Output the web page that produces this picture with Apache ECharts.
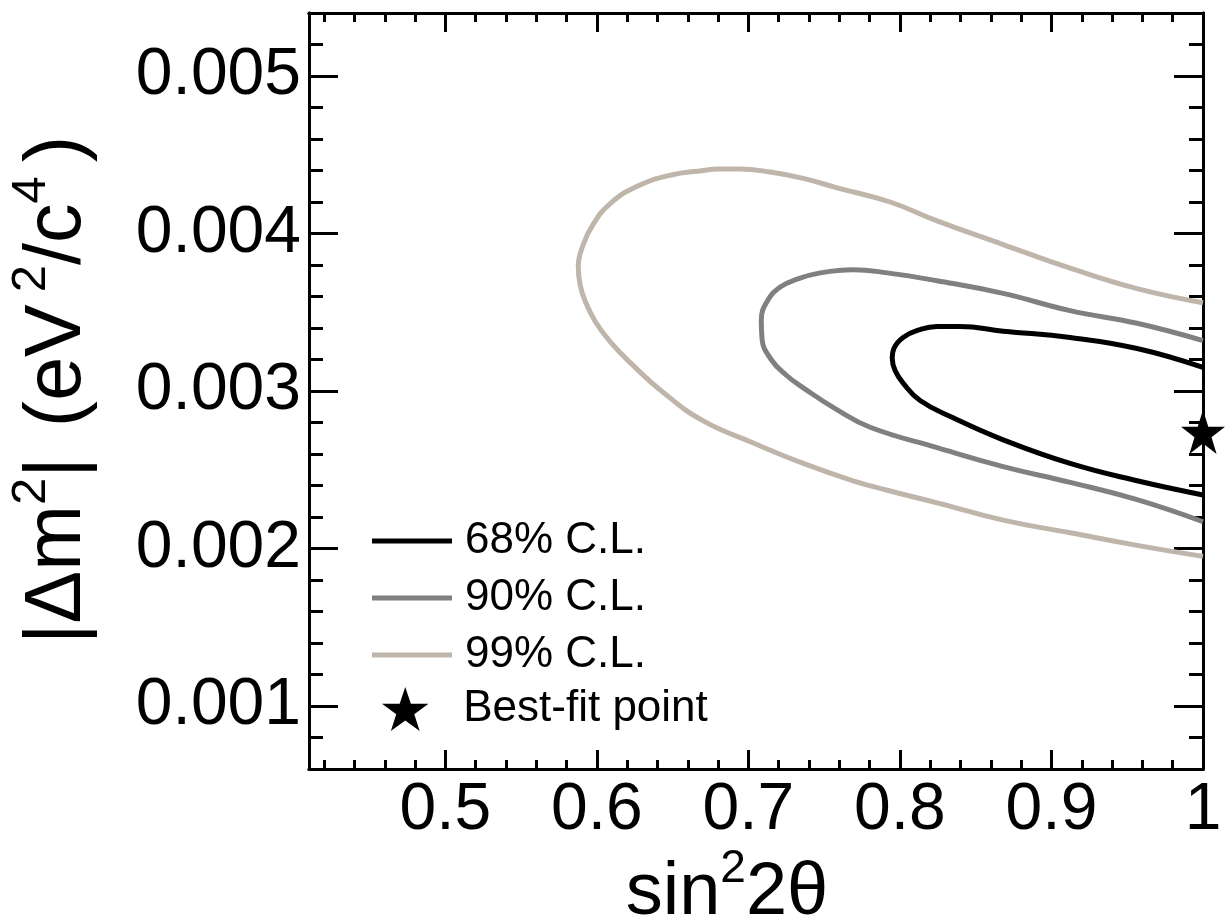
<!DOCTYPE html>
<html>
<head>
<meta charset="utf-8">
<script src="https://cdn.jsdelivr.net/npm/echarts@6/dist/echarts.min.js"></script>
<style>
html,body{margin:0;padding:0;background:#fff;}
#c{width:1227px;height:924px;}
</style>
</head>
<body>
<div id="c"></div>
<script>
// ---- data ----
const xMajorTicks = [0.5, 0.6, 0.7, 0.8, 0.9, 1.0];
const xMinorTicks = [0.42, 0.44, 0.46, 0.48, 0.52, 0.54, 0.56, 0.58, 0.62, 0.64, 0.66, 0.68,
  0.72, 0.74, 0.76, 0.78, 0.82, 0.84, 0.86, 0.88, 0.92, 0.94, 0.96, 0.98];
const yMajorTicks = [0.001, 0.002, 0.003, 0.004, 0.005];
const yMinorTicks = [0.0008, 0.0012, 0.0014, 0.0016, 0.0018, 0.0022, 0.0024, 0.0026, 0.0028,
  0.0032, 0.0034, 0.0036, 0.0038, 0.0042, 0.0044, 0.0046, 0.0048, 0.0052];

const cl68 = [[1.0, 0.00315], [0.9565, 0.00327], [0.9123, 0.00334], [0.8681, 0.00338], [0.8397, 0.00341],
  [0.8245, 0.00341], [0.8133, 0.00339], [0.8021, 0.00334], [0.7960, 0.00327], [0.7949, 0.00321],
  [0.7968, 0.00313], [0.8021, 0.00305], [0.8133, 0.00294], [0.8351, 0.00283], [0.8681, 0.00269],
  [0.9123, 0.00254], [0.9565, 0.00243], [1.0, 0.00234]];
const cl90 = [[1.0, 0.00332], [0.9565, 0.00343], [0.9123, 0.00351], [0.8681, 0.00362], [0.8245, 0.00370],
  [0.7916, 0.00375], [0.7691, 0.00377], [0.7474, 0.00375], [0.7322, 0.00371], [0.7210, 0.00366],
  [0.7124, 0.00357], [0.7085, 0.00345], [0.7090, 0.00333], [0.7150, 0.00320], [0.7250, 0.00310],
  [0.7362, 0.00302], [0.7586, 0.00288], [0.7803, 0.00277], [0.8245, 0.00264], [0.8681, 0.00252],
  [0.9123, 0.00242], [0.9565, 0.00231], [1.0, 0.00217]];
const cl99 = [[1.0, 0.00356], [0.9565, 0.00365], [0.9123, 0.00378], [0.8681, 0.00393], [0.8245, 0.00408],
  [0.7935, 0.00420], [0.7586, 0.00429], [0.7362, 0.00435], [0.7144, 0.00439], [0.6946, 0.00441],
  [0.6800, 0.00441], [0.6702, 0.00440], [0.6484, 0.00437], [0.6266, 0.00430], [0.6088, 0.00419],
  [0.5976, 0.00406], [0.5910, 0.00393], [0.5877, 0.00379], [0.5890, 0.00367], [0.5923, 0.00357],
  [0.5990, 0.00344], [0.6090, 0.00331], [0.6220, 0.00318], [0.6438, 0.00299], [0.6702, 0.00281],
  [0.7032, 0.00267], [0.7362, 0.00254], [0.7691, 0.00243], [0.7916, 0.00237], [0.8245, 0.00229],
  [0.8681, 0.00218], [0.9123, 0.00210], [0.9565, 0.00202], [1.0, 0.00195]];
const bestFit = [[1.0, 0.00274]];

const lineNames = ['68% C.L.', '90% C.L.', '99% C.L.'];
const pointName = 'Best-fit point';

// ---- styling ----
const FONT = '"Liberation Sans", Arial, sans-serif';
const X_MIN = 0.41, X_MAX = 1.0, Y_MIN = 0.0006, Y_MAX = 0.0054;
const STAR = 'path://M50,0 L61.8,35.4 L99,35.4 L69,57.3 L80.3,92.7 L50,70.8 L19.7,92.7 L31,57.3 L1,35.4 L38.2,35.4 Z';

function xAx(pos, ticks, len, label) {
  return {
    type: 'value', position: pos, min: X_MIN, max: X_MAX,
    axisLine: { show: true, onZero: false, lineStyle: { color: '#000', width: 3 } },
    axisTick: { show: true, inside: true, length: len, customValues: ticks, lineStyle: { color: '#000', width: 3 } },
    axisLabel: label ? { show: true, customValues: ticks, margin: 9, fontSize: 66, fontFamily: FONT, color: '#000',
      formatter: v => String(Math.round(v * 10) / 10) } : { show: false },
    splitLine: { show: false }
  };
}
function yAx(pos, ticks, len, label) {
  return {
    type: 'value', position: pos, min: Y_MIN, max: Y_MAX,
    axisLine: { show: true, onZero: false, lineStyle: { color: '#000', width: 3 } },
    axisTick: { show: true, inside: true, length: len, customValues: ticks, lineStyle: { color: '#000', width: 3 } },
    axisLabel: label ? { show: true, customValues: ticks, margin: 8, fontSize: 66, fontFamily: FONT, color: '#000',
      formatter: v => v.toFixed(3) } : { show: false },
    splitLine: { show: false }
  };
}

const legendText = { fontSize: 44, fontFamily: FONT, color: '#000', padding: [0, 0, 0, 8], lineHeight: 44 };
const legendText2 = { fontSize: 44, fontFamily: FONT, color: '#000', padding: [0, 0, 0, 13], lineHeight: 44 };

const chart = echarts.init(document.getElementById('c'), null, { renderer: 'canvas' });
chart.setOption({
  animation: false,
  backgroundColor: '#fff',
  grid: { left: 309, right: 24, top: 13, bottom: 155, containLabel: false },
  xAxis: [
    xAx('bottom', xMajorTicks, 19, true),
    xAx('bottom', xMinorTicks, 9, false),
    xAx('top', xMajorTicks, 19, false),
    xAx('top', xMinorTicks, 9, false)
  ],
  yAxis: [
    yAx('left', yMajorTicks, 29, true),
    yAx('left', yMinorTicks, 14, false),
    yAx('right', yMajorTicks, 29, false),
    yAx('right', yMinorTicks, 14, false)
  ],
  legend: [
    {
      orient: 'vertical', left: 367, top: 514,
      itemWidth: 80, itemHeight: 5, itemGap: 13, icon: 'rect',
      data: lineNames,
      textStyle: legendText,
      selectedMode: false
    },
    {
      orient: 'vertical', left: 377, top: 682,
      itemWidth: 80, itemHeight: 44, itemGap: 10,
      data: [pointName],
      textStyle: legendText2,
      selectedMode: false
    }
  ],
  series: [
    { name: lineNames[0], type: 'line', data: cl68, showSymbol: false, symbol: 'none', smooth: 0.45,
      lineStyle: { color: '#000000', width: 5 }, itemStyle: { color: '#000000' }, z: 5 },
    { name: lineNames[1], type: 'line', data: cl90, showSymbol: false, symbol: 'none', smooth: 0.45,
      lineStyle: { color: '#808080', width: 5 }, itemStyle: { color: '#808080' }, z: 4 },
    { name: lineNames[2], type: 'line', data: cl99, showSymbol: false, symbol: 'none', smooth: 0.45,
      lineStyle: { color: '#bfb5aa', width: 5 }, itemStyle: { color: '#bfb5aa' }, z: 3 },
    { name: pointName, type: 'scatter', data: bestFit, symbol: STAR, symbolSize: 44, clip: false,
      itemStyle: { color: '#000', opacity: 1 }, z: 6 }
  ],
  graphic: [
    {
      type: 'text', x: 727, y: 894,
      style: {
        text: '{m|sin}{s|2}{m|2θ}',
        align: 'center', verticalAlign: 'middle',
        fill: '#000', font: '74px ' + FONT,
        rich: {
          m: { fontSize: 74, fontFamily: FONT, lineHeight: 96, fill: '#000' },
          s: { fontSize: 46, fontFamily: FONT, lineHeight: 46, verticalAlign: 'top', fill: '#000' }
        }
      }
    },
    {
      type: 'text', x: 58, y: 390, rotation: Math.PI / 2,
      style: {
        text: '{m||Δm}{s|2}{m||}{g|(eV}{s2|2}{m|/c}{s|4}{e|)}',
        align: 'center', verticalAlign: 'middle',
        fill: '#000', font: '79px ' + FONT,
        rich: {
          m: { fontSize: 79, fontFamily: FONT, lineHeight: 102, fill: '#000' },
          g: { fontSize: 79, fontFamily: FONT, lineHeight: 102, fill: '#000', padding: [0, 0, 0, 30] },
          e: { fontSize: 79, fontFamily: FONT, lineHeight: 102, fill: '#000', padding: [0, 0, 0, 14] },
          s: { fontSize: 49, fontFamily: FONT, lineHeight: 49, verticalAlign: 'top', fill: '#000' },
          s2: { fontSize: 49, fontFamily: FONT, lineHeight: 49, verticalAlign: 'top', fill: '#000', padding: [0, 0, 0, 12] }
        }
      }
    }
  ]
});
</script>
</body>
</html>
